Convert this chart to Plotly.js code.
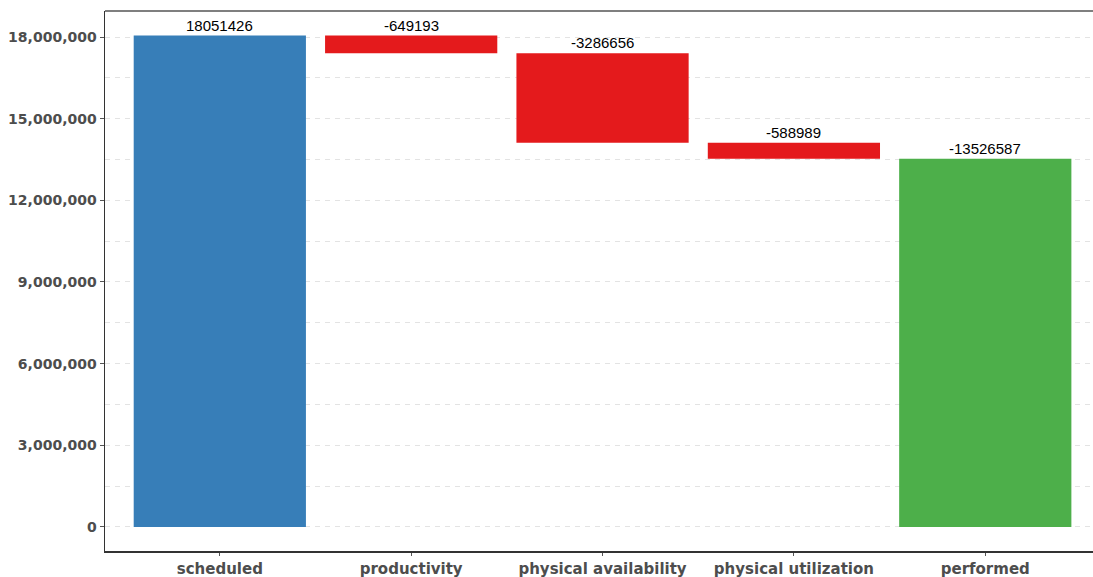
<!DOCTYPE html>
<html>
<head>
<meta charset="utf-8">
<script src="https://cdn.plot.ly/plotly-3.0.1.min.js"></script>
<style>html,body{margin:0;padding:0;background:#fff;}#chart{width:1093px;height:577px;}</style>
</head>
<body>
<div id="chart"></div>
<script>
const categories = ["scheduled", "productivity", "physical availability", "physical utilization", "performed"];
const values = [18051426, -649193, -3286656, -588989, 13526587];
const measures = ["absolute", "relative", "relative", "relative", "total"];
const labels = ["18051426", "-649193", "-3286656", "-588989", "-13526587"];
const colors = ["#377EB8", "#E41A1C", "#E41A1C", "#E41A1C", "#4DAF4A"];
const yTickVals = [0, 3000000, 6000000, 9000000, 12000000, 15000000, 18000000];
const yTickText = ["0", "3,000,000", "6,000,000", "9,000,000", "12,000,000", "15,000,000", "18,000,000"];

// compute bases / heights from the data
let running = 0;
const bases = [], heights = [], tops = [];
for (let i = 0; i < values.length; i++) {
  if (measures[i] === "absolute" || measures[i] === "total") {
    bases.push(0);
    heights.push(values[i]);
    tops.push(values[i]);
    running = values[i];
  } else {
    bases.push(running);
    heights.push(values[i]);
    tops.push(Math.max(running, running + values[i]));
    running += values[i];
  }
}

const bars = {
  type: "bar",
  x: categories,
  y: heights,
  base: bases,
  width: 0.9,
  marker: {color: colors, line: {width: 0}},
  hoverinfo: "skip",
  showlegend: false
};

const annotations = categories.map((c, i) => ({
  x: c, y: tops[i], xref: "x", yref: "y",
  text: labels[i], showarrow: false,
  yanchor: "bottom", yshift: 0,
  font: {family: "Liberation Sans, Arial, sans-serif", size: 15, color: "#000"}
}));

const layout = {
  width: 1093, height: 577,
  margin: {l: 105, r: 0, t: 11, b: 26},
  paper_bgcolor: "#fff", plot_bgcolor: "#fff",
  showlegend: false,
  bargap: 0.1,
  xaxis: {
    type: "category",
    range: [-0.6, 4.563],
    showline: true, linecolor: "#333", linewidth: 1.5,
    ticks: "outside", ticklen: 3, tickcolor: "#555", tickwidth: 1,
    showgrid: false, zeroline: false,
    tickfont: {family: "DejaVu Sans, Verdana, sans-serif", size: 15, color: "#4d4d4d", weight: "bold"}
  },
  yaxis: {
    range: [-882000, 18955000],
    tickmode: "array", tickvals: yTickVals, ticktext: yTickText,
    showline: true, linecolor: "#333", linewidth: 1.5,
    ticks: "outside", ticklen: 4, tickcolor: "#555", tickwidth: 1,
    showgrid: true, gridcolor: "#e3e3e3", griddash: "5px,5px", gridwidth: 1,
    minor: {tickmode: "linear", tick0: 1500000, dtick: 3000000, showgrid: true, gridcolor: "#e3e3e3", griddash: "5px,5px", gridwidth: 1, ticks: ""},
    zeroline: false,
    tickfont: {family: "DejaVu Sans, Verdana, sans-serif", size: 14, color: "#4d4d4d", weight: "bold"}
  },
  shapes: [{type: "line", xref: "paper", yref: "paper", x0: 0, x1: 1, y0: 1, y1: 1, line: {color: "#555", width: 1.5}}],
  annotations: annotations
};

Plotly.newPlot("chart", [bars], layout, {displayModeBar: false, staticPlot: true});
</script>
</body>
</html>
